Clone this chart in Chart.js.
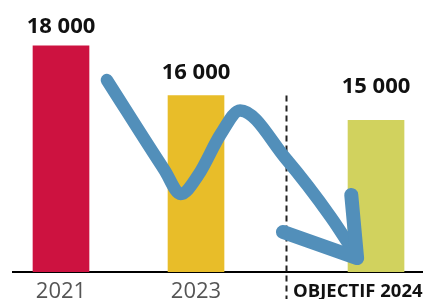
<!DOCTYPE html>
<html><head><meta charset="utf-8">
<script src="https://cdn.jsdelivr.net/npm/chart.js@4/dist/chart.umd.min.js"></script>
<style>html,body{margin:0;padding:0;background:#fff;overflow:hidden}canvas{display:block}</style>
</head><body>
<canvas id="c" width="423" height="299"></canvas>
<script>
// ---- data ----
const categories = ['2021', '2023', 'OBJECTIF 2024'];
const values = [18000, 16000, 15000];
const valueLabels = ['18 000', '16 000', '15 000'];
const slots = [0, 3, 7];            // place of each bar along the x axis
const separatorSlot = 5;            // dashed separator between actuals and target
const separatorTop = 16000;
// hand-drawn downward arrow (x in slot units, y in value units)
const arrowPath = [
  {x: 1.02, y: 16620}, {x: 2.30, y: 13000}, {x: 2.66, y: 12040},
  {x: 3.05, y: 12800}, {x: 3.55, y: 14450}, {x: 3.98, y: 15400},
  {x: 5.00, y: 13450}, {x: 6.00, y: 11100}, {x: 6.58, y: 9500}
];
const arrowHead = [
  {x: 4.93, y: 10510}, {x: 6.58, y: 9460}, {x: 6.45, y: 12000}
];

// ---- styles ----
const barColors = ['#CD1240', '#E8BD29', '#D1D25E'];
const labelLift = [13, 16, 27];
const arrowColor = '#528FBA';

const decor = {
  id: 'decor',
  beforeDatasetsDraw(chart) {
    const ctx = chart.ctx, xs = chart.scales.x, ys = chart.scales.y;
    const x = Math.round(xs.getPixelForValue(separatorSlot)) + 0.5;
    ctx.save();
    ctx.strokeStyle = '#222';
    ctx.lineWidth = 2;
    ctx.setLineDash([6, 4]);
    ctx.beginPath();
    ctx.moveTo(x, ys.getPixelForValue(separatorTop));
    ctx.lineTo(x, chart.height);
    ctx.stroke();
    ctx.restore();
  },
  afterDatasetsDraw(chart) {
    const ctx = chart.ctx, xs = chart.scales.x;
    const meta = chart.getDatasetMeta(2);
    ctx.save();
    ctx.fillStyle = '#111';
    ctx.textAlign = 'center';
    ctx.textBaseline = 'alphabetic';
    ctx.font = 'bold 22px "Open Sans"';
    meta.data.forEach((bar, i) => ctx.fillText(valueLabels[i], bar.x, bar.y - labelLift[i]));
    // x-axis category labels
    categories.forEach((c, i) => {
      if (i < categories.length - 1) {
        ctx.font = '22px "Open Sans"';
        ctx.fillStyle = '#555';
        ctx.textAlign = 'center';
        ctx.fillText(c, xs.getPixelForValue(slots[i]), 298);
      } else {
        ctx.font = 'bold 18.5px "Open Sans"';
        ctx.fillStyle = '#111';
        ctx.textAlign = 'left';
        ctx.fillText(c, xs.getPixelForValue(separatorSlot) + 7, 297);
      }
    });
    ctx.restore();
  }
};

new Chart(document.getElementById('c'), {
  type: 'bar',
  data: {
    datasets: [
      {
        type: 'line', data: arrowHead, borderColor: arrowColor, borderWidth: 14,
        borderCapStyle: 'round', borderJoinStyle: 'round', pointRadius: 0, tension: 0, order: 0
      },
      {
        type: 'line', data: arrowPath, borderColor: arrowColor, borderWidth: 12.5,
        borderCapStyle: 'round', borderJoinStyle: 'round', pointRadius: 0,
        cubicInterpolationMode: 'monotone', order: 1
      },
      {
        type: 'bar', data: slots.map((s, i) => ({x: s, y: values[i]})),
        backgroundColor: barColors, borderWidth: 0, barThickness: 56, order: 2
      }
    ]
  },
  options: {
    responsive: false,
    animation: false,
    events: [],
    layout: {padding: {left: 13, right: 0, top: 0, bottom: 0}},
    plugins: {legend: {display: false}, tooltip: {enabled: false}},
    scales: {
      x: {
        type: 'linear', min: -1.0667, max: 8.044, offset: false, z: 1,
        grid: {display: true, offset: false, drawOnChartArea: false, drawTicks: false, color: 'rgba(0,0,0,0)'},
        border: {display: true, color: '#000', width: 2},
        ticks: {display: false},
        afterFit(s) { s.height = 27; }
      },
      y: {display: false, min: 8900, max: 19841}
    }
  },
  plugins: [decor]
});
</script>
</body></html>
